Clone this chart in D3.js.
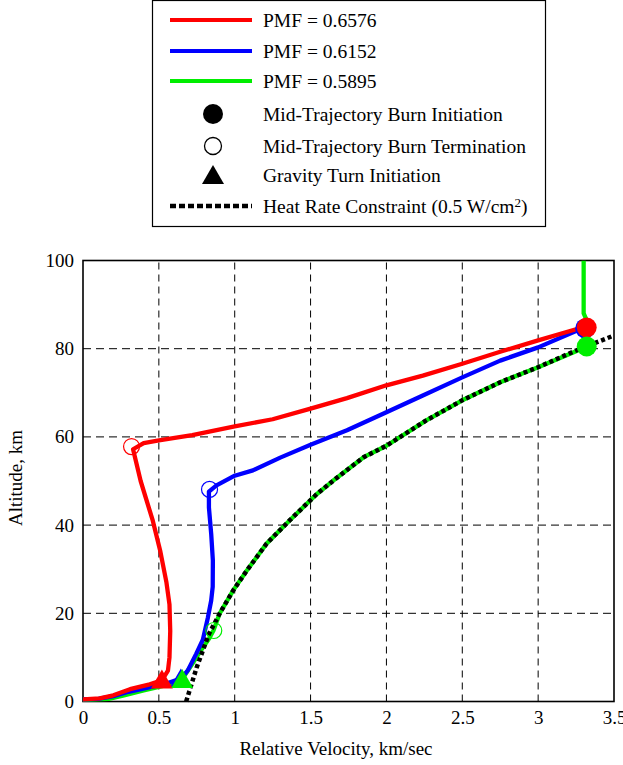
<!DOCTYPE html>
<html>
<head>
<meta charset="utf-8">
<script src="https://cdn.jsdelivr.net/npm/d3@7"></script>
<style>
  body { margin: 0; background: #fff; }
  svg text { font-family: "Liberation Serif", "Times New Roman", serif !important; fill: #000; }
</style>
</head>
<body>
<script>

// trajectories [velocity km/s, altitude km]
var pmf6576 = [[3.32,85],[3.25,84.4],[3.0,81.9],[2.75,79.3],[2.5,76.6],[2.24,73.9],[2.0,71.7],[1.74,68.8],[1.5,66.4],[1.25,64],[1.0,62.4],[0.72,60.4],[0.5,59.2],[0.40,58.6],[0.33,57.2],
  [0.38,50],[0.46,41],[0.51,34],[0.55,27],[0.57,22],[0.575,16],[0.57,10],[0.56,7],[0.52,4.8],
  [0.44,3.9],[0.31,2.8],[0.2,1.4],[0.11,0.7],[0,0.5]];

var pmf6152 = [[3.31,84.6],[3.25,84.0],[3.0,80.3],[2.75,77.3],[2.5,73.5],[2.24,69.4],[2.0,65.6],[1.74,61.5],[1.5,58.2],[1.3,55.3],[1.12,52.4],[1.0,51.2],[0.88,49],[0.83,47.6],
  [0.83,44],[0.845,38],[0.856,32],[0.855,26],[0.845,22.9],[0.823,19],[0.79,14],[0.746,10.8],[0.69,7],[0.645,5.2],
  [0.55,4.1],[0.42,3.1],[0.3,2.2],[0.2,1.2],[0.1,0.6],[0,0.5]];

var pmf5895 = [[3.30,100],[3.30,88],[3.32,86.5],[3.32,80.5],[3.25,79.4],[3.0,75.8],[2.75,72.4],[2.5,68.3],[2.26,63.7],[2.0,58],[1.85,55.4],[1.65,50.1],[1.54,47],[1.36,41],[1.21,35.8],[1.08,29.7],[0.99,25.2],[0.9,19.9],[0.86,16.1],
  [0.83,14.2],[0.77,11.2],[0.71,8],[0.654,5.1],[0.55,3.7],[0.4,2.5],[0.27,1.4],[0.17,0.6],[0,0.4]];

var heatRate = [[0.68,0],[0.75,7.8],[0.83,15.3],[0.90,19.9],[0.99,25.2],[1.08,29.7],[1.21,35.8],[1.36,41],[1.54,47],[1.65,50.1],[1.85,55.4],[2.0,58],[2.26,63.7],[2.5,68.3],[2.75,72.4],[3.0,75.8],[3.25,79.6],[3.5,83]];

// events: blue, red, green
var burnStart = [[3.31,84.6],[3.32,84.8],[3.32,80.5]];
var burnEnd = [[0.834,48.1],[0.32,57.8],[0.862,16.1]];
var gravityTurn = [[0.645,5.2],[0.52,5.0],[0.654,5.1]];
var markerColors = ["#0000ff","#ff0000","#00ee00"];

var legendLabels = ["PMF = 0.6576","PMF = 0.6152","PMF = 0.5895",
  "Mid-Trajectory Burn Initiation","Mid-Trajectory Burn Termination","Gravity Turn Initiation"];

var xTicks = [0,0.5,1,1.5,2,2.5,3,3.5];
var yTicks = [0,20,40,60,80,100];

var W = 623, H = 765;
var svg = d3.select("body").append("svg")
    .attr("width", W)
    .attr("height", H)
    .attr("font-family", "Liberation Serif, serif");

var x = d3.scaleLinear().domain([0,3.5]).range([83,614]);
var y = d3.scaleLinear().domain([0,100]).range([701.5,260.5]);

// grid
svg.append("g").selectAll("line")
    .data(xTicks.slice(1,-1))
  .enter().append("line")
    .attr("x1", function(d){ return x(d); })
    .attr("x2", function(d){ return x(d); })
    .attr("y1", y(0)).attr("y2", y(100))
    .attr("stroke", "#000").attr("stroke-width", 1)
    .attr("stroke-dasharray", "7,5");

svg.append("g").selectAll("line")
    .data(yTicks.slice(1,-1))
  .enter().append("line")
    .attr("y1", function(d){ return y(d); })
    .attr("y2", function(d){ return y(d); })
    .attr("x1", x(0)).attr("x2", x(3.5))
    .attr("stroke", "#000").attr("stroke-width", 1)
    .attr("stroke-dasharray", "8,5");

// axes, no tick marks
var xAxis = svg.append("g")
    .attr("transform", "translate(0," + y(0) + ")")
    .call(d3.axisBottom(x).tickValues(xTicks).tickSize(0).tickPadding(9).tickFormat(d3.format("")));
var yAxis = svg.append("g")
    .attr("transform", "translate(" + x(0) + ",0)")
    .call(d3.axisLeft(y).tickValues(yTicks).tickSize(0).tickPadding(9));
xAxis.attr("font-family", "Liberation Serif, serif").attr("font-size", 19);
yAxis.attr("font-family", "Liberation Serif, serif").attr("font-size", 19);
svg.selectAll(".domain").remove();
svg.selectAll(".tick text").attr("fill", "#000");

svg.append("rect")
    .attr("x", x(0)).attr("y", y(100))
    .attr("width", x(3.5) - x(0)).attr("height", y(0) - y(100))
    .attr("fill", "none").attr("stroke", "#000").attr("stroke-width", 1.6);

svg.append("clipPath").attr("id", "clip")
  .append("rect")
    .attr("x", x(0)).attr("y", y(100))
    .attr("width", x(3.5) - x(0) + 3).attr("height", y(0) - y(100) + 3);

var line = d3.line()
    .x(function(d){ return x(d[0]); })
    .y(function(d){ return y(d[1]); });

var plot = svg.append("g").attr("clip-path", "url(#clip)");

plot.append("path").datum(pmf5895)
    .attr("d", line).attr("fill", "none")
    .attr("stroke", "#00ee00").attr("stroke-width", 4.3).attr("stroke-linejoin", "round");
plot.append("path").datum(pmf6152)
    .attr("d", line).attr("fill", "none")
    .attr("stroke", "#0000ff").attr("stroke-width", 4.3).attr("stroke-linejoin", "round");
plot.append("path").datum(pmf6576)
    .attr("d", line).attr("fill", "none")
    .attr("stroke", "#ff0000").attr("stroke-width", 4.3).attr("stroke-linejoin", "round");
plot.append("path").datum(heatRate)
    .attr("d", line).attr("fill", "none")
    .attr("stroke", "#000").attr("stroke-width", 4.5)
    .attr("stroke-dasharray", "4,3");

// markers
var tri = "M0,-10L11,9L-11,9Z";
markerColors.forEach(function(c, i){
  svg.append("circle")
      .attr("cx", x(burnStart[i][0])).attr("cy", y(burnStart[i][1]))
      .attr("r", 10).attr("fill", c);
  svg.append("circle")
      .attr("cx", x(burnEnd[i][0])).attr("cy", y(burnEnd[i][1]))
      .attr("r", 8).attr("fill", "none").attr("stroke", c).attr("stroke-width", 1.2);
  svg.append("path")
      .attr("d", tri)
      .attr("transform", "translate(" + x(gravityTurn[i][0]) + "," + y(gravityTurn[i][1]) + ")")
      .attr("fill", c);
});

// axis titles
svg.append("text")
    .attr("x", 336).attr("y", 755)
    .style("text-anchor", "middle")
    .style("font-size", "19px")
    .text("Relative Velocity, km/sec");

svg.append("text")
    .attr("transform", "translate(22,478) rotate(-90)")
    .style("text-anchor", "middle")
    .style("font-size", "19px")
    .text("Altitude, km");

// legend
var lg = svg.append("g");
lg.append("rect")
    .attr("x", 152.5).attr("y", 0.5)
    .attr("width", 393).attr("height", 226)
    .attr("fill", "#fff").attr("stroke", "#000").attr("stroke-width", 1.2);

var rowY = [20,51,81,114,146,175,206];
var lineColors = ["#ff0000","#0000ff","#00ee00"];
lineColors.forEach(function(c, i){
  lg.append("line")
      .attr("x1", 170).attr("x2", 252)
      .attr("y1", rowY[i]).attr("y2", rowY[i])
      .attr("stroke", c).attr("stroke-width", 4);
});
lg.append("circle").attr("cx", 213).attr("cy", rowY[3]).attr("r", 10).attr("fill", "#000");
lg.append("circle").attr("cx", 213).attr("cy", rowY[4]).attr("r", 8.5)
    .attr("fill", "none").attr("stroke", "#000").attr("stroke-width", 1.3);
lg.append("path").attr("d", tri).attr("transform", "translate(213," + rowY[5] + ")").attr("fill", "#000");
lg.append("line")
    .attr("x1", 170).attr("x2", 252)
    .attr("y1", rowY[6]).attr("y2", rowY[6])
    .attr("stroke", "#000").attr("stroke-width", 4.5)
    .attr("stroke-dasharray", "6,3");

legendLabels.forEach(function(t, i){
  lg.append("text")
      .attr("x", 263).attr("y", rowY[i] + 6.5)
      .style("font-size", "19.5px")
      .text(t);
});
var hr = lg.append("text")
    .attr("x", 263).attr("y", rowY[6] + 6.5)
    .style("font-size", "19.5px");
hr.append("tspan").text("Heat Rate Constraint (0.5 W/cm");
hr.append("tspan").attr("dy", -6).style("font-size", "13px").text("2");
hr.append("tspan").attr("dy", 6).text(")");

</script>
</body>
</html>
